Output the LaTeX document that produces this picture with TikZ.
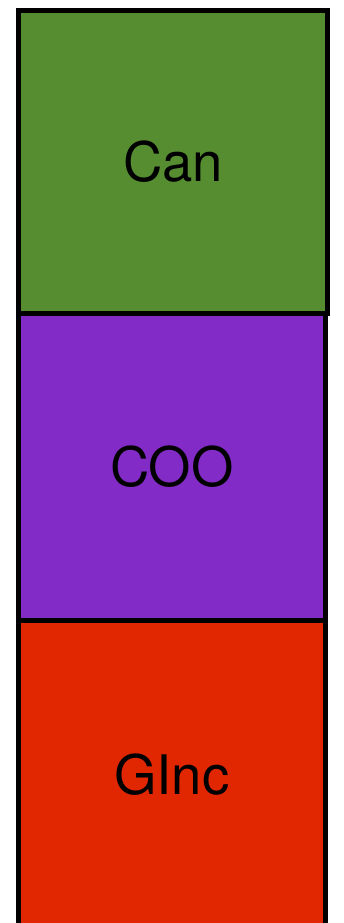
\documentclass[tikz,border=0pt]{standalone}
\usepackage{fontspec}
\setmainfont{TeX Gyre Heros}
\usepackage{xcolor}
\usepackage{tikz}
\definecolor{cangreen}{RGB}{86,141,49}
\definecolor{coopurple}{RGB}{131,43,198}
\definecolor{gincred}{RGB}{225,38,2}

\begin{document}
\begin{tikzpicture}[font=\fontsize{31}{37}\selectfont,
    stack/.style={draw=black,line width=2.85pt,align=center,inner sep=0pt,
                  minimum width=6.136cm,minimum height=6.15cm}]
  \useasboundingbox (0,0) rectangle (6.86,-18.46);
  \node[stack,fill=cangreen,minimum width=6.18cm,minimum height=6.05cm] (can) at (3.46,-3.235) {Can};
  \node[stack,fill=coopurple] (coo) at (3.438,-9.335) {COO};
  \node[stack,fill=gincred] (ginc) at (3.438,-15.485) {GInc};
\end{tikzpicture}
\end{document}
